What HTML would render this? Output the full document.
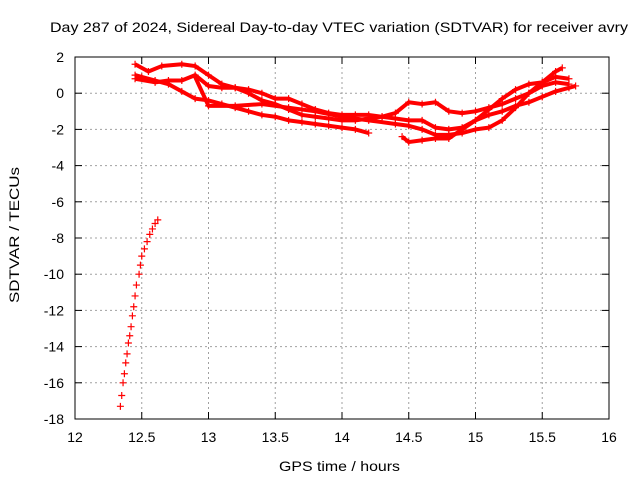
<!DOCTYPE html>
<html><head><meta charset="utf-8"><style>
body{margin:0;background:#fff}
svg{display:block;font-family:"Liberation Sans",sans-serif;font-size:14px}
</style></head><body>
<svg id="chart" width="640" height="480">
<text x="50" y="32" textLength="578" lengthAdjust="spacingAndGlyphs">Day 287 of 2024, Sidereal Day-to-day VTEC variation (SDTVAR) for receiver avry</text>
<text x="279" y="471" textLength="121" lengthAdjust="spacingAndGlyphs">GPS time / hours</text>
<text transform="translate(19,303) rotate(-90)" textLength="136" lengthAdjust="spacingAndGlyphs">SDTVAR / TECUs</text>
<g id="grid"></g>
<g id="axes"></g>
<g id="marks"></g>
<rect x="75" y="57" width="534" height="362" fill="none" stroke="#000"/>
</svg>
<script>
const xTicks=[12,12.5,13,13.5,14,14.5,15,15.5,16];
const xTickLabels=["12","12.5","13","13.5","14","14.5","15","15.5","16"];
const yTicks=[2,0,-2,-4,-6,-8,-10,-12,-14,-16,-18];
const yTickLabels=["2","0","-2","-4","-6","-8","-10","-12","-14","-16","-18"];
const t1x=[12.45,12.5,12.6,12.7,12.8,12.9,13.0,13.1,13.2,13.3,13.4,13.5,13.6,13.7,13.8,13.9,14.0,14.1,14.2];
const t1y=[1.0,0.9,0.7,0.5,0.1,-0.3,-0.4,-0.6,-0.8,-1.0,-1.2,-1.3,-1.5,-1.6,-1.7,-1.8,-1.9,-2.0,-2.2];
const t2x=[12.45,12.55,12.65,12.8,12.9,13.0,13.1,13.2,13.3,13.4,13.5,13.6,13.7,13.8,13.9,14.0,14.1,14.2,14.3,14.4,14.5,14.6,14.7,14.8,14.9,15.0,15.1,15.2,15.3,15.4,15.5,15.6,15.7];
const t2y=[1.6,1.2,1.5,1.6,1.5,1.0,0.5,0.3,0.0,-0.4,-0.6,-0.9,-1.2,-1.3,-1.4,-1.5,-1.5,-1.4,-1.3,-1.1,-0.5,-0.6,-0.5,-1.0,-1.1,-1.0,-0.8,-0.6,-0.3,0.0,0.4,0.6,0.5];
const t3x=[12.45,12.6,12.7,12.8,12.9,13.0,13.1,13.2,13.3,13.4,13.5,13.6,13.7,13.8,13.9,14.0,14.1,14.2,14.3,14.4,14.5,14.6,14.7,14.8,14.9,15.0,15.1,15.2,15.3,15.4,15.5,15.6,15.7,15.75];
const t3y=[0.8,0.6,0.7,0.7,1.0,0.4,0.3,0.3,0.2,0.0,-0.3,-0.3,-0.6,-0.9,-1.1,-1.2,-1.2,-1.2,-1.3,-1.4,-1.5,-1.5,-1.9,-2.0,-1.9,-1.5,-1.2,-1.0,-0.7,-0.5,-0.2,0.1,0.3,0.4];
const t4x=[12.9,13.0,13.2,13.4,13.6,13.8,14.0,14.2,14.4,14.5,14.6,14.7,14.8,14.9,15.0,15.1,15.2,15.3,15.4,15.5,15.6,15.65];
const t4y=[0.9,-0.7,-0.7,-0.6,-0.8,-1.0,-1.3,-1.5,-1.7,-1.8,-2.0,-2.3,-2.3,-2.2,-2.0,-1.9,-1.5,-0.8,0.0,0.6,1.2,1.4];
const t5x=[14.45,14.5,14.6,14.7,14.8,14.9,15.0,15.1,15.2,15.3,15.4,15.5,15.6,15.7];
const t5y=[-2.4,-2.7,-2.6,-2.5,-2.5,-2.0,-1.5,-0.9,-0.3,0.2,0.5,0.6,0.9,0.8];
const tailX=[12.34,12.35,12.36,12.37,12.38,12.39,12.4,12.41,12.42,12.43,12.44,12.45,12.46,12.48,12.49,12.5,12.52,12.54,12.56,12.58,12.6,12.62];
const tailY=[-17.3,-16.7,-16.0,-15.5,-14.9,-14.4,-13.8,-13.4,-12.9,-12.3,-11.8,-11.2,-10.6,-10.0,-9.5,-9.0,-8.6,-8.2,-7.8,-7.5,-7.2,-7.0];
const NS="http://www.w3.org/2000/svg";
const X=v=>75+(v-12)*(534/4), Y=v=>57+(2-v)*(362/20);
function mk(tag,attrs,parent){const e=document.createElementNS(NS,tag);for(const k in attrs)e.setAttribute(k,attrs[k]);parent.appendChild(e);return e;}
const grid=document.getElementById('grid'),axes=document.getElementById('axes'),marks=document.getElementById('marks');
xTicks.forEach((t,i)=>{const x=X(t);
 if(i>0&&i<xTicks.length-1){const g=mk('line',{x1:x,x2:x,y1:57,y2:419,stroke:'#a0a0a0','stroke-dasharray':'2,3'},grid);}
 mk('line',{x1:x,x2:x,y1:419,y2:412,stroke:'#000'},axes);mk('line',{x1:x,x2:x,y1:57,y2:64,stroke:'#000'},axes);
 const tx=mk('text',{x:x,y:442,'text-anchor':'middle'},axes);tx.textContent=xTickLabels[i];
 });
yTicks.forEach((t,i)=>{const y=Y(t);
 if(i>0&&i<yTicks.length-1){const g=mk('line',{x1:75,x2:609,y1:y,y2:y,stroke:'#a0a0a0','stroke-dasharray':'2,3'},grid);}
 mk('line',{x1:75,x2:82,y1:y,y2:y,stroke:'#000'},axes);mk('line',{x1:609,x2:602,y1:y,y2:y,stroke:'#000'},axes);
 const tx=mk('text',{x:64,y:y+5,'text-anchor':'end'},axes);tx.textContent=yTickLabels[i];
 });
function plus(x,y){const p=mk('path',{d:`M${X(x)-3.5},${Y(y)}h7M${X(x)},${Y(y)-3.5}v7`,stroke:'#f00','stroke-width':1.2,fill:'none'},marks);
 }
[[t1x,t1y],[t2x,t2y],[t3x,t3y],[t4x,t4y],[t5x,t5y]].forEach(([xs,ys])=>{
 const pl=mk('polyline',{points:xs.map((x,i)=>X(x)+','+Y(ys[i])).join(' '),fill:'none',stroke:'#f00','stroke-width':4,'stroke-linejoin':'round'},marks);
 
 xs.forEach((x,i)=>plus(x,ys[i]));});
tailX.forEach((x,i)=>plus(x,tailY[i]));
</script>
</body></html>
